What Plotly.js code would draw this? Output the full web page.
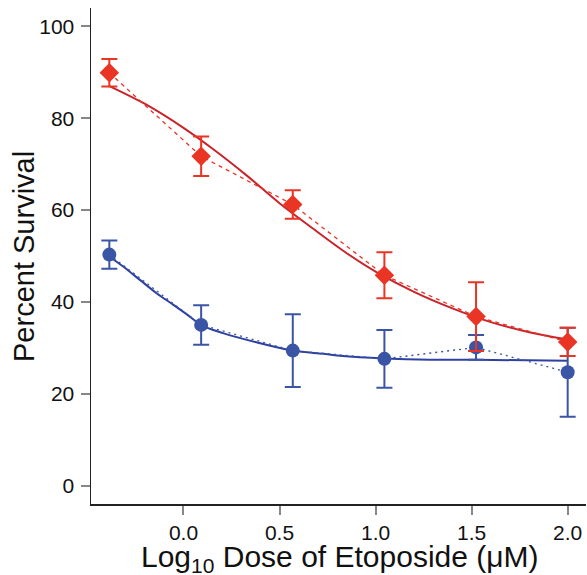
<!DOCTYPE html>
<html>
<head>
<meta charset="utf-8">
<script src="https://cdn.plot.ly/plotly-3.0.1.min.js"></script>
<style>html,body{margin:0;padding:0;background:#fff;}#chart{width:587px;height:575px;}</style>
</head>
<body>
<div id="chart"></div>
<script>
// Log10 dose (µM) of etoposide
const logDose = [-0.386, 0.092, 0.569, 1.046, 1.523, 2.0];

// Red series (diamonds)
const redMean = [89.9, 71.7, 61.2, 45.8, 36.8, 31.3];
const redErr  = [3.0, 4.3, 3.1, 5.0, 7.5, 3.1];

// Blue series (circles)
const blueMean = [50.3, 35.0, 29.4, 27.6, 30.1, 24.7];
const blueErr  = [3.1, 4.3, 7.9, 6.3, 2.7, 9.7];

// Fitted curves
const redFitX = [-0.386, -0.2, 0.0, 0.15, 0.33, 0.5, 0.67, 0.85, 1.0, 1.2, 1.4, 1.6, 1.8, 2.0];
const redFitY = [87.0, 83.1, 77.9, 73.4, 67.5, 61.5, 56.1, 50.6, 46.6, 42.2, 38.6, 35.6, 33.4, 31.8];
const blueFitX = [-0.386, -0.314, -0.227, -0.14, -0.054, 0.033, 0.09, 0.206, 0.38, 0.569, 0.726, 0.813, 1.042, 1.282, 1.524, 2.0];
const blueFitY = [49.9, 47.7, 44.8, 41.9, 39.4, 36.8, 35.0, 33.2, 31.2, 29.4, 28.7, 28.3, 27.7, 27.4, 27.4, 27.2];

const xTicks = [0.0, 0.5, 1.0, 1.5, 2.0];
const xTickText = ["0.0", "0.5", "1.0", "1.5", "2.0"];
const yTicks = [0, 20, 40, 60, 80, 100];

const xTitle = "Log<sub>10</sub> Dose of Etoposide (μM)";
const yTitle = "Percent Survival";

const RED = "#EA3424", RED_FIT = "#C8242B", BLUE = "#3A55A5", BLUE_FIT = "#2F41A0";

const traces = [
  {x: redFitX, y: redFitY, mode: "lines", line: {color: RED_FIT, width: 2, shape: "spline", smoothing: 1}, hoverinfo: "skip"},
  {x: blueFitX, y: blueFitY, mode: "lines", line: {color: BLUE_FIT, width: 2, shape: "spline", smoothing: 1}, hoverinfo: "skip"},
  {x: logDose, y: redMean, mode: "lines", line: {color: RED, width: 1.3, dash: "4px,4px"}},
  {x: logDose, y: blueMean, mode: "lines", line: {color: BLUE, width: 1.3, dash: "2px,4px"}},
  {x: logDose, y: blueMean, mode: "markers", marker: {symbol: "circle", size: 14, color: BLUE},
   error_y: {type: "data", array: blueErr, visible: true, color: BLUE, thickness: 2, width: 8}},
  {x: logDose, y: redMean, mode: "markers", marker: {symbol: "diamond", size: 15, color: RED},
   error_y: {type: "data", array: redErr, visible: true, color: RED, thickness: 2, width: 8}}
];

const FAM = "Liberation Sans, Arial, Helvetica, sans-serif";

const layout = {
  width: 587, height: 575,
  margin: {l: 91, r: 1, t: 8, b: 71},
  showlegend: false,
  paper_bgcolor: "#fff", plot_bgcolor: "#fff",
  font: {family: FAM, color: "#111"},
  xaxis: {
    range: [-0.4814, 2.0954],
    tickvals: xTicks, ticktext: xTickText,
    ticks: "outside", ticklen: 9, tickwidth: 2, tickcolor: "#888",
    showline: true, linecolor: "#222", linewidth: 1.5,
    showgrid: false, zeroline: false,
    tickfont: {family: FAM, size: 21, color: "#111"}
  },
  yaxis: {
    range: [-4, 104],
    tickvals: yTicks,
    ticks: "outside", ticklen: 9, tickwidth: 2, tickcolor: "#888",
    ticklabelstandoff: 2,
    showline: true, linecolor: "#222", linewidth: 1.5,
    showgrid: false, zeroline: false,
    tickfont: {family: FAM, size: 21, color: "#111"}
  },
  annotations: [
    {text: yTitle, xref: "paper", yref: "paper", x: -0.1354, y: 0.5,
     xanchor: "center", yanchor: "middle", textangle: -90, showarrow: false,
     font: {family: FAM, size: 29, color: "#111"}},
    {text: xTitle, xref: "paper", yref: "paper", x: 0.503, y: -0.1105,
     xanchor: "center", yanchor: "middle", showarrow: false,
     font: {family: FAM, size: 30, color: "#111"}}
  ]
};

Plotly.newPlot("chart", traces, layout, {displayModeBar: false, staticPlot: true});
</script>
</body>
</html>
